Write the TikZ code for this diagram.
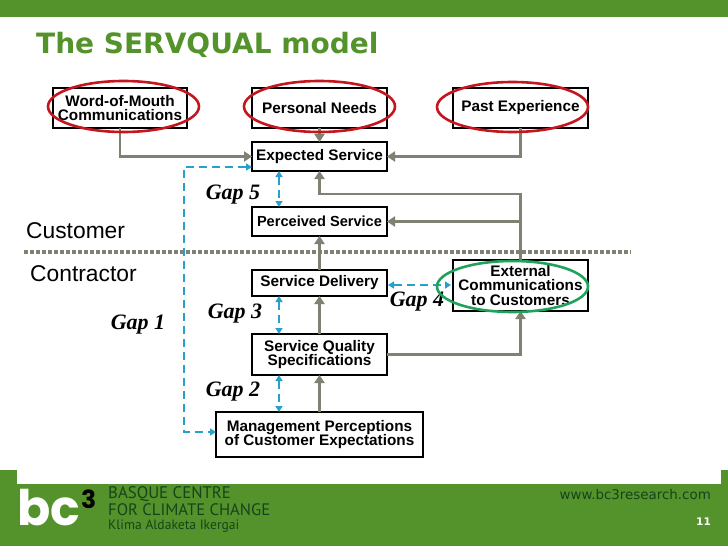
\documentclass[tikz,border=0pt]{standalone}
\usepackage{fontspec}
\setmainfont{Liberation Sans}
\newfontfamily\gapfont{Liberation Serif}
\newfontfamily\titlefont{DejaVu Sans}
\newfontfamily\logofont{Poppins}
\newfontfamily\footfont{PT Sans}
\usepackage{tikz}
\usetikzlibrary{arrows.meta}
\usetikzlibrary{shapes.geometric}

\definecolor{slidegreen}{HTML}{54932B}
\definecolor{flowgray}{HTML}{7E8273}
\definecolor{gapblue}{HTML}{28A0CC}
\definecolor{ringred}{HTML}{C4161F}
\definecolor{ringgreen}{HTML}{1FA35C}
\definecolor{footdark}{HTML}{17431A}

\tikzset{
    modelbox/.style={rectangle, draw=black, line width=2.8pt, fill=white, align=center, inner sep=0pt, outer sep=0pt, font=\fontsize{15.3}{14.4}\selectfont\bfseries},
    flow/.style={draw=flowgray, line width=2.6pt, -{Triangle[length=8pt,width=10pt]}},
    gapline/.style={draw=gapblue, line width=1.9pt, dash pattern=on 8pt off 5pt, {Triangle[length=6pt,width=7pt]}-{Triangle[length=6pt,width=7pt]}},
    gaplabel/.style={font=\gapfont\fontsize{22}{22}\selectfont\bfseries\itshape, inner sep=0pt},
    ring/.style={ellipse, draw, line width=2.6pt, inner sep=0pt, outer sep=0pt},
    sidelabel/.style={font=\fontsize{22.8}{23}\selectfont, inner sep=0pt}
}

\begin{document}
\begin{tikzpicture}[x=1pt, y=-1pt]
    \useasboundingbox (0, 0) rectangle (728, 546);

    % Slide frame
    \fill[slidegreen] (0, 0) rectangle (728, 17);
    \fill[slidegreen] (0, 484) rectangle (728, 546);
    \fill[slidegreen] (0, 470) rectangle (17, 484);
    \fill[slidegreen] (721, 470) rectangle (728, 484);
    \node[anchor=west, inner sep=0pt, text=slidegreen, font=\titlefont\fontsize{28}{28}\selectfont\bfseries] (title) at (36, 45) {The SERVQUAL model};

    % Customer / contractor divide
    \coordinate (divleft) at (24, 252);
    \coordinate (divright) at (631, 252);
    \draw[flowgray, line width=3.6pt, dash pattern=on 3.8pt off 2.2pt] (divleft) -- (divright);
    \node[sidelabel, anchor=west] (customer) at (26, 231) {Customer};
    \node[sidelabel, anchor=west] (contractor) at (30, 274) {Contractor};

    % Boxes
    \node[modelbox, minimum width=134pt, minimum height=40pt] (wom) at (120, 108) {Word-of-Mouth\\Communications};
    \node[modelbox, minimum width=135pt, minimum height=40pt] (needs) at (319.5, 108) {Personal Needs};
    \node[modelbox, minimum width=135pt, minimum height=40pt] (past) at (520.5, 108) {Past Experience};
    \node[modelbox, minimum width=135pt, minimum height=29pt] (expected) at (319.5, 156.5) {Expected Service};
    \node[modelbox, minimum width=135pt, minimum height=29pt, font=\fontsize{14.6}{14.4}\selectfont\bfseries] (perceived) at (319.5, 221.5) {Perceived Service};
    \node[modelbox, minimum width=135pt, minimum height=26pt] (delivery) at (319.5, 283) {Service Delivery};
    \node[modelbox, minimum width=135pt, minimum height=41pt] (specs) at (319.5, 354.5) {Service Quality\\Specifications};
    \node[modelbox, minimum width=207pt, minimum height=45pt] (mgmt) at (319.5, 434.5) {Management Perceptions\\of Customer Expectations};
    \node[modelbox, minimum width=135pt, minimum height=51pt] (external) at (520.5, 285.5) {External\\Communications\\to Customers};

    % Grey flows
    \coordinate (extcorner) at (520.5, 194);
    \coordinate (extbranch) at (external.north |- perceived.east);
    \draw[flow] (wom.south) |- (expected.west);
    \draw[flow] (needs.south) -- (expected.north);
    \draw[flow] (past.south) |- (expected.east);
    \draw[flow] (external.north) -- (extcorner) -| (expected.south);
    \draw[flow] (extbranch) -- (perceived.east);
    \draw[flow] (delivery.north) -- (perceived.south);
    \draw[flow] (specs.north) -- (delivery.south);
    \draw[flow] (mgmt.north) -- (specs.south);
    \draw[flow] (specs.east) -| (external.south);

    % Gaps
    \coordinate (gaponetop) at (252, 167);
    \coordinate (gaponebot) at (216, 432);
    \coordinate (gaponeside) at (184, 300);
    \coordinate (gapfivetop) at (279, 171);
    \coordinate (gapfivebot) at (279, 207);
    \coordinate (gapthreetop) at (279, 296);
    \coordinate (gapthreebot) at (279, 334);
    \coordinate (gaptwotop) at (279, 375);
    \coordinate (gaptwobot) at (279, 412);
    \coordinate (gapfourleft) at (388, 285);
    \coordinate (gapfourright) at (451, 285);
    \draw[gapline] (gaponetop) -| (gaponeside) |- (gaponebot);
    \draw[gapline] (gapfivetop) -- (gapfivebot);
    \draw[gapline] (gapthreetop) -- (gapthreebot);
    \draw[gapline] (gaptwotop) -- (gaptwobot);
    \draw[gapline] (gapfourleft) -- (gapfourright);
    \node[gaplabel] (gapone) at (138, 325) {Gap 1};
    \node[gaplabel] (gaptwo) at (233, 392) {Gap 2};
    \node[gaplabel] (gapthree) at (235, 314) {Gap 3};
    \node[gaplabel] (gapfour) at (417, 302) {Gap 4};
    \node[gaplabel] (gapfive) at (233, 195) {Gap 5};

    % Highlight rings
    \node[ring, draw=ringred, minimum width=151pt, minimum height=51pt] (ringwom) at (123.5, 106.5) {};
    \node[ring, draw=ringred, minimum width=151pt, minimum height=51pt] (ringneeds) at (319.5, 106.5) {};
    \node[ring, draw=ringred, minimum width=151pt, minimum height=50pt] (ringpast) at (512.5, 107) {};
    \node[ring, draw=ringgreen, minimum width=151pt, minimum height=51pt] (ringext) at (512.5, 286.5) {};

    % Footer
    \node[anchor=west, inner sep=0pt, text=white, font=\logofont\fontsize{49}{49}\selectfont\bfseries] (logobc) at (17, 508) {bc};
    \node[anchor=west, inner sep=0pt, text=black, font=\logofont\fontsize{25}{25}\selectfont\bfseries] (logothree) at (81, 499) {3};
    \node[anchor=west, inner sep=0pt, text=footdark, font=\footfont\fontsize{16.8}{17}\selectfont] (centreone) at (108, 494) {BASQUE CENTRE};
    \node[anchor=west, inner sep=0pt, text=footdark, font=\footfont\fontsize{16.6}{17}\selectfont] (centretwo) at (108, 509.5) {FOR CLIMATE CHANGE};
    \node[anchor=west, inner sep=0pt, text=footdark, font=\footfont\fontsize{13.6}{14}\selectfont] (centrethree) at (108, 526.5) {Klima Aldaketa Ikergai};
    \node[anchor=east, inner sep=0pt, text=footdark, font=\titlefont\fontsize{13.4}{14}\selectfont] (website) at (711, 494) {www.bc3research.com};
    \node[anchor=east, inner sep=0pt, text=white, font=\titlefont\fontsize{10.5}{11}\selectfont\bfseries] (pagenum) at (711, 522) {11};
\end{tikzpicture}
\end{document}
